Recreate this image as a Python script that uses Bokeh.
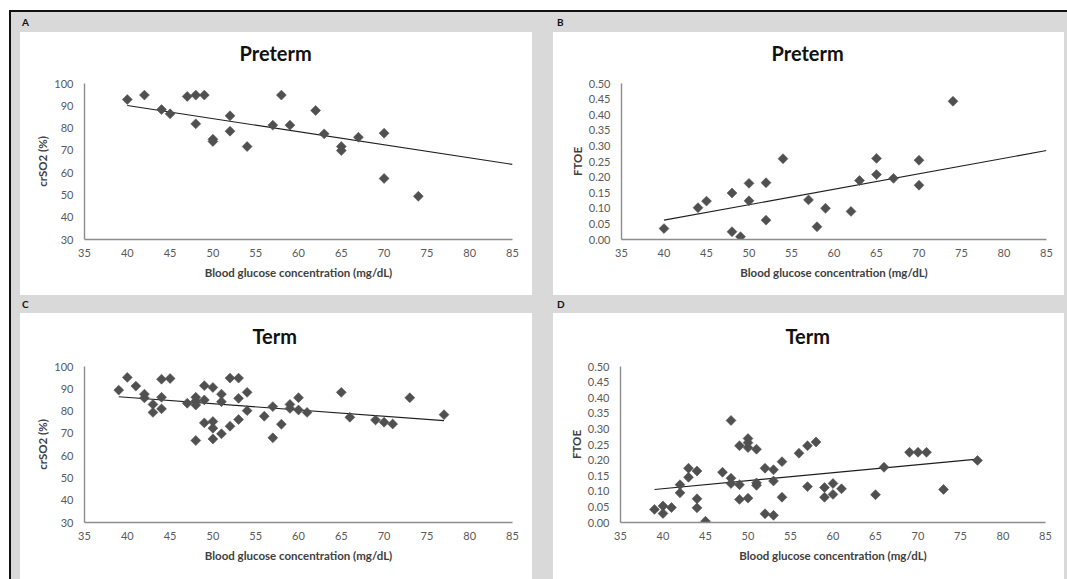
import math

from bokeh.embed import file_html
from bokeh.layouts import column, row
from bokeh.models import Div, FixedTicker, NumeralTickFormatter, Range1d, Title
from bokeh.plotting import figure
from bokeh.resources import INLINE

# ---------------------------------------------------------------- data
x_ticks = [35, 40, 45, 50, 55, 60, 65, 70, 75, 80, 85]
crso2_ticks = [30, 40, 50, 60, 70, 80, 90, 100]
ftoe_ticks = [0.0, 0.05, 0.10, 0.15, 0.20, 0.25, 0.30, 0.35, 0.40, 0.45, 0.50]

# A: preterm, cerebral oxygen saturation
pre_glucose_a = [40, 42, 44, 45, 47, 48, 48, 49, 50, 50, 52, 52, 54, 57, 58, 59,
                 62, 63, 65, 65, 67, 70, 70, 74]
pre_crso2 = [92.8, 94.8, 88.3, 86.4, 94.2, 94.8, 81.9, 94.8, 75.0, 74.0, 85.5, 78.6,
             71.7, 81.3, 94.8, 81.3, 87.9, 77.4, 71.7, 69.9, 75.9, 77.7, 57.4, 49.4]
pre_crso2_trend_x = [40, 85]
pre_crso2_trend_y = [90.1, 63.7]

# B: preterm, fractional tissue oxygen extraction
pre_glucose_b = [40, 44, 45, 48, 48, 49, 50, 50, 52, 52, 54, 57, 58, 59, 62, 63,
                 65, 65, 67, 70, 70, 74]
pre_ftoe = [0.035, 0.102, 0.123, 0.149, 0.025, 0.009, 0.180, 0.124, 0.182, 0.062,
            0.259, 0.127, 0.041, 0.100, 0.090, 0.189, 0.260, 0.208, 0.196, 0.254,
            0.174, 0.443]
pre_ftoe_trend_x = [40, 85]
pre_ftoe_trend_y = [0.062, 0.285]

# C: term, cerebral oxygen saturation
term_glucose_c = [39, 40, 41, 42, 42, 43, 43, 44, 44, 44, 45, 47, 48, 48, 48, 48,
                  49, 49, 49, 50, 50, 50, 50, 51, 51, 51, 52, 52, 53, 53, 53, 54,
                  54, 56, 57, 57, 58, 59, 59, 60, 60, 61, 65, 66, 69, 70, 71, 73, 77]
term_crso2 = [89.4, 95.1, 91.2, 87.6, 85.9, 83.0, 79.4, 94.3, 86.2, 81.0, 94.6, 83.5,
              86.2, 84.5, 82.7, 66.8, 91.4, 85.0, 74.7, 90.6, 75.3, 72.3, 67.5, 87.6,
              84.2, 69.8, 94.8, 73.2, 94.8, 85.7, 76.2, 88.4, 80.2, 77.7, 82.0, 68.0,
              74.1, 83.0, 81.2, 86.0, 80.5, 79.4, 88.4, 77.2, 76.0, 75.0, 74.2, 86.0,
              78.4]
term_crso2_trend_x = [39, 77]
term_crso2_trend_y = [86.4, 75.7]

# D: term, fractional tissue oxygen extraction
term_glucose_d = [39, 40, 40, 41, 42, 42, 43, 43, 44, 44, 44, 45, 47, 48, 48, 48,
                  49, 49, 49, 50, 50, 50, 50, 51, 51, 51, 52, 52, 53, 53, 53, 54,
                  54, 56, 57, 57, 58, 59, 59, 60, 60, 61, 65, 66, 69, 70, 71, 73, 77]
term_ftoe = [0.042, 0.053, 0.029, 0.048, 0.121, 0.095, 0.174, 0.145, 0.165, 0.076,
             0.047, 0.004, 0.161, 0.327, 0.142, 0.125, 0.246, 0.121, 0.074, 0.269,
             0.256, 0.240, 0.078, 0.235, 0.127, 0.119, 0.174, 0.028, 0.169, 0.133,
             0.023, 0.195, 0.081, 0.222, 0.246, 0.115, 0.258, 0.112, 0.081, 0.125,
             0.090, 0.108, 0.089, 0.177, 0.225, 0.225, 0.225, 0.106, 0.199]
term_ftoe_trend_x = [39, 77]
term_ftoe_trend_y = [0.106, 0.203]

# ---------------------------------------------------------------- styling
GRAY = "#d9d9d9"
FONT = "Lato"
X_LABEL = "Blood glucose concentration (mg/dL)"


def make_panel(title, gx, gy, tx, ty, y_range, y_ticks, y_label, width, height,
               borders, title_offset, ftoe=False):
    left, right, top, bottom = borders
    p = figure(width=width, height=height, x_range=Range1d(35, 85),
               y_range=Range1d(*y_range), output_backend="svg",
               toolbar_location=None, margin=(0, 0, 0, 0), title=None,
               min_border_left=left, min_border_right=right,
               min_border_top=top, min_border_bottom=bottom)
    p.border_fill_color = "white"
    p.background_fill_color = "white"
    p.outline_line_color = None
    p.xgrid.visible = False
    p.ygrid.visible = False

    # thin gap between frame and title, then the title centred over the box
    p.add_layout(Title(text=" ", text_font_size="2px", standoff=13), "above")
    p.add_layout(Title(text=title, align="left", offset=title_offset,
                       vertical_align="top", standoff=0, text_font=FONT,
                       text_font_size="20px", text_font_style="bold",
                       text_color="#111111"), "above")

    p.xaxis.ticker = FixedTicker(ticks=x_ticks)
    p.yaxis.ticker = FixedTicker(ticks=y_ticks)
    if ftoe:
        p.yaxis.formatter = NumeralTickFormatter(format="0.00")
    p.xaxis.axis_label = X_LABEL
    p.yaxis.axis_label = y_label

    for ax in (p.xaxis[0], p.yaxis[0]):
        ax.axis_line_color = "#8c8c8c"
        ax.axis_line_width = 1.4
        ax.major_tick_line_color = None
        ax.minor_tick_line_color = None
        ax.major_tick_out = 0
        ax.major_tick_in = 0
        ax.minor_tick_out = 0
        ax.major_label_text_font = FONT
        ax.major_label_text_font_size = "11px"
        ax.major_label_text_color = "#595959"
        ax.axis_label_text_font = FONT
        ax.axis_label_text_font_style = "bold"
        ax.axis_label_text_font_size = "11.5px"
        ax.axis_label_text_color = "#404040"
    p.xaxis.major_label_standoff = 9
    p.xaxis.axis_label_standoff = 6
    p.yaxis.major_label_standoff = 11
    p.yaxis.axis_label_standoff = 2

    p.line(tx, ty, line_color="#1e1e1e", line_width=1.1)
    p.scatter(gx, gy, marker="square", angle=math.pi / 4, size=7,
              fill_color="#505050", line_color="#505050", line_width=0.6)
    return p


pA = make_panel("Preterm", pre_glucose_a, pre_crso2, pre_crso2_trend_x,
                pre_crso2_trend_y, (30, 100), crso2_ticks, "crSO2 (%)",
                512, 263, (64, 20, 51, 56), 155)
pB = make_panel("Preterm", pre_glucose_b, pre_ftoe, pre_ftoe_trend_x,
                pre_ftoe_trend_y, (0, 0.5), ftoe_ticks, "FTOE",
                511, 263, (68, 18, 51, 56), 150, ftoe=True)
pC = make_panel("Term", term_glucose_c, term_crso2, term_crso2_trend_x,
                term_crso2_trend_y, (30, 100), crso2_ticks, "crSO2 (%)",
                512, 266, (64, 20, 53, 57), 168)
pD = make_panel("Term", term_glucose_d, term_ftoe, term_ftoe_trend_x,
                term_ftoe_trend_y, (0, 0.5), ftoe_ticks, "FTOE",
                511, 266, (67, 19, 53, 57), 165, ftoe=True)


def block(w, h, color=GRAY):
    return Div(text="", width=w, height=h, margin=(0, 0, 0, 0),
               styles={"background-color": color})


def header(letter, w, h, pad):
    html = (f'<div style="padding-left:{pad}px;line-height:{h}px;'
            f'font-family:{FONT},sans-serif;font-weight:bold;font-size:10px;'
            f'color:#111">{letter}</div>')
    return Div(text=html, width=w, height=h, margin=(0, 0, 0, 0),
               styles={"background-color": GRAY})


inner = column(
    row(header("A", 542, 20, 11), header("B", 514, 20, 4), spacing=0),
    row(block(9, 263), pA, block(21, 263), pB, block(3, 263), spacing=0),
    row(header("C", 542, 18, 11), header("D", 514, 18, 4), spacing=0),
    row(block(9, 266), pC, block(21, 266), pD, block(3, 266), spacing=0),
    spacing=0,
)

root = column(
    block(1067, 10, "white"),
    row(block(9, 569, "white"),
        column(block(1058, 2, "#111111"),
               row(block(2, 567, "#111111"), inner, spacing=0),
               spacing=0),
        spacing=0),
    spacing=0,
)

open("out.html", "w").write(file_html(root, INLINE))
